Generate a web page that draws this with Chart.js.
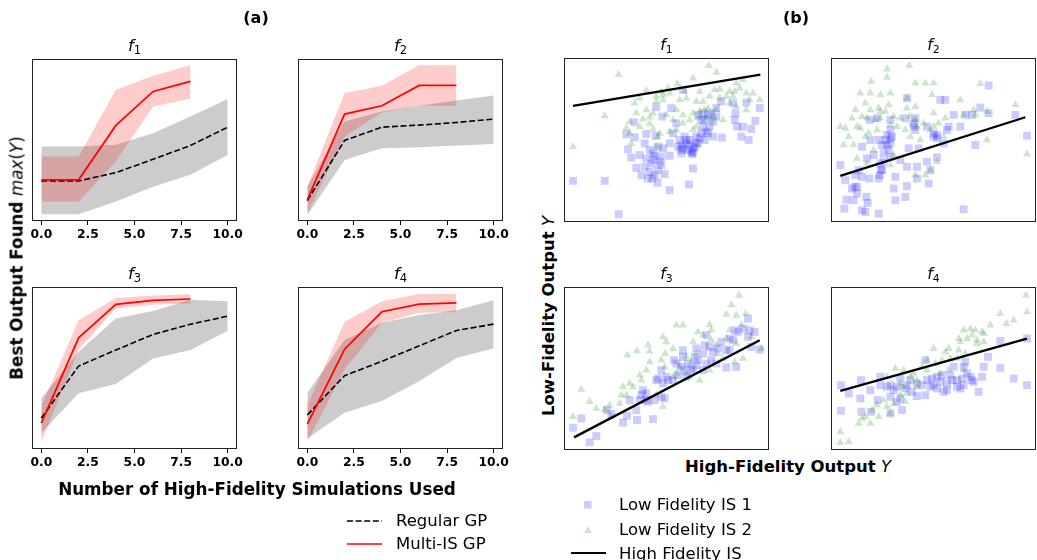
<!DOCTYPE html>
<html>
<head>
<meta charset="utf-8">
<script src="https://cdn.jsdelivr.net/npm/chart.js@4.4.0/dist/chart.umd.min.js"></script>
<style>
  html, body { margin: 0; padding: 0; }
  body { width: 1037px; height: 560px; background: #fff; position: relative; overflow: hidden;
         font-family: "DejaVu Sans", sans-serif; color: #000; }
  canvas { position: absolute; }
  .txt { position: absolute; white-space: nowrap; line-height: 1; transform: translate(-50%, -50%); }
  .rot { transform: translate(-50%, -50%) rotate(-90deg); }
  .left { transform: translate(0, -50%); }
  sub { font-size: 70%; vertical-align: -0.28em; font-style: normal; line-height: 0; }
  .b { font-weight: bold; }
  svg { position: absolute; overflow: visible; }
</style>
</head>
<body>
<script>
// ---- (a) best output found vs. number of high-fidelity simulations ----
const simCounts = [0, 2, 4, 6, 8, 10];
const xTickValues = [0, 2.5, 5, 7.5, 10];

const f1RegularMean = [24.7, 24.7, 29.9, 38.1, 46.6, 57.9];
const f1RegularLow  = [4.1, 4.1, 12.0, 21.2, 28.5, 40.8];
const f1RegularHigh = [46.0, 46.0, 47.0, 54.2, 64.5, 75.3];
const f1MultiMean   = [25.4, 25.4, 59.0, 80.0, 86.2];
const f1MultiLow    = [12.0, 12.0, 36.7, 70.7, 75.5];
const f1MultiHigh   = [39.8, 39.8, 81.0, 89.7, 96.1];

const f2RegularMean = [12.6, 49.7, 57.9, 59.2, 60.8, 62.9];
const f2RegularLow  = [3.7, 37.7, 44.9, 45.6, 46.6, 47.6];
const f2RegularHigh = [21.2, 61.4, 67.6, 71.1, 74.4, 77.5];
const f2MultiMean   = [13.0, 66.0, 71.1, 83.7, 83.7];
const f2MultiLow    = [4.7, 52.2, 67.0, 71.1, 71.1];
const f2MultiHigh   = [21.2, 79.0, 83.5, 96.1, 96.1];

const f3RegularMean = [19.1, 51.2, 61.1, 70.7, 77.0, 82.0];
const f3RegularLow  = [9.8, 34.4, 40.2, 55.9, 61.1, 73.0];
const f3RegularHigh = [31.4, 60.0, 80.5, 85.2, 92.2, 91.2];
const f3MultiMean   = [16.0, 68.6, 89.3, 91.8, 92.6];
const f3MultiLow    = [4.1, 61.1, 86.7, 89.1, 89.8];
const f3MultiHigh   = [26.2, 79.5, 93.2, 94.7, 95.5];

const f4RegularMean = [21.0, 45.3, 54.1, 63.7, 73.1, 77.1];
const f4RegularLow  = [6.5, 22.4, 29.6, 41.8, 56.1, 62.2];
const f4RegularHigh = [34.7, 67.3, 78.0, 82.7, 85.7, 91.8];
const f4MultiMean   = [15.3, 61.6, 84.7, 89.4, 90.2];
const f4MultiLow    = [4.5, 49.0, 78.0, 84.1, 84.5];
const f4MultiHigh   = [26.9, 78.6, 91.2, 95.7, 95.7];

// ---- (b) low-fidelity vs. high-fidelity outputs ----
const f1LowFid1 = [[5.4,24.6],[24.4,24.6],[32.8,4.6],[63.4,19],[75,22.4],[77.4,32],[56,23.4],[60.4,28.6],[51.4,30],[46.4,28],[43.4,32.4],[40.4,38.4],[38.4,43.4],[37.4,52.4],[42.4,50.6],[42,59.6],[49.4,52.6],[55,51.4],[48.4,47],[51.4,43],[54.4,39.6],[58.4,39],[63.4,39.6],[58.4,34],[59.4,44],[56.4,45],[53.8,37],[49.4,38],[70.4,46],[73.4,47],[70.4,41],[77.4,41.4],[77.8,44],[79.4,47],[81.4,50],[84.4,49],[86.4,53],[87.4,57],[89.4,51],[94.8,50.4],[83.4,57],[82.4,61],[80.4,64],[83.4,65],[88.4,65],[91.4,68],[94.4,72],[101.4,71],[102.8,65],[102.4,61],[109.4,71.4],[117.4,68],[114.8,60.4],[107.4,57],[112.4,55.6],[106.4,51],[110.8,49],[103.8,57],[55.4,68.6],[64.4,68],[59,63],[71.4,79],[67.4,59],[65.4,53],[63.4,47],[75.4,49],[72.4,51],[45.4,40],[48.4,33],[53,26],[76.8,40.6],[85.4,54],[91.4,63],[68.4,45],[71.4,44],[74.4,43],[76.4,42],[78.4,45],[80.4,47],[73.4,49],[75.4,46],[69.4,49],[70.4,43],[79.4,51],[82.4,53],[52.4,35],[56.4,31],[54.4,28],[50.4,26],[57.4,36],[53.4,41],[86.4,64],[89.4,60],[84.4,61.4]];
const f1LowFid2 = [[32.8,88],[5.4,45],[24.4,63.4],[86.8,93.4],[91.4,89.4],[77.4,86],[68,82.6],[72.4,78],[58.4,78],[62.4,80],[49.4,78.6],[55.4,75],[59.4,73],[45.4,74],[42.4,71],[49.4,67],[43.4,65],[37.4,56],[39.4,60],[47.4,61.4],[51.4,58.6],[53.4,55.4],[55.4,45],[40.4,47],[57.4,53],[63.4,54],[67.4,55],[71.4,59],[77.4,55],[75.4,61],[79.4,57],[80.4,62],[85.4,62],[89.4,63],[91.4,67],[95.4,61],[87.4,75],[90.4,79],[93.4,79.4],[97.4,75],[99.4,71],[101.4,75],[105.4,80],[109.4,77],[107.4,85],[113.4,77],[117.4,73],[109.4,67],[103.4,69],[73.4,74],[69.4,73],[79.4,72],[83.4,72],[67.4,67],[61.4,64],[71.4,64],[65.4,61],[81.4,78],[93.4,74],[86.4,68],[103.4,83],[56.4,51],[51.4,62.6],[99.4,78],[77.4,65],[81.4,66],[84.4,67],[88.4,61],[55.4,72],[59.4,76],[63.4,77],[39.4,53],[45.4,57],[53.4,65],[102.4,78],[111.4,73]];
const f1HighFid = [[5.4,69.4],[117.8,88]];

const f2LowFid1 = [[5.6,34],[8.6,25],[8,8],[9.2,13.4],[13.6,13],[14.2,21],[15.6,17],[18.6,7],[20.6,6],[21.2,15],[22,11.4],[28.6,5],[14.6,28],[16.6,31],[18.6,27],[23,26],[28.6,26],[30,31],[29.6,35],[31.6,41],[35.6,39],[36.6,51],[33.6,52],[35.6,55],[30.6,46],[25.6,40],[21.6,38],[18.6,45],[23.6,49],[28.6,49],[35.6,47],[38.6,13],[37.6,20],[44.6,15],[45.6,21.4],[38.6,27],[45.6,33],[51.6,33],[46.6,44],[52.6,44],[57.6,36],[59.6,31],[58.6,23],[51.6,26],[63.6,38.6],[49.6,57],[50.6,62],[45.6,74],[44.6,62],[57.6,57],[61.6,51],[63.6,52],[69.6,55],[70.6,57],[73.6,64],[77.6,57],[65.6,73],[68.6,73],[80.6,64],[84.6,64],[86.6,46],[89.6,68.4],[94.6,81.6],[94.6,65],[110.6,64],[117.6,51.6],[79.6,7.6],[27.6,62],[41.6,37],[67.6,47],[35.6,61],[23.2,61],[32.6,49],[34.6,43],[31.6,36],[30.6,31],[29.2,28],[33.6,46],[35.6,50],[61.6,53],[63.6,50],[49.6,59],[50.6,55],[15.6,21],[12.6,20]];
const f2LowFid2 = [[33.6,91.4],[47,93.6],[33.6,86.4],[24.2,84],[17.6,77],[23.6,77],[29.6,76],[35.6,77],[20.6,71],[14.6,67],[23.6,67],[28.6,68],[34.6,70],[45.6,74],[50.6,83],[56.6,83],[61.6,83],[60.6,76],[50.6,69],[45.6,68],[41.6,62],[37.6,63],[29.6,62],[21.6,62],[15.6,57],[5.6,57],[8.6,56],[10.6,51],[7.6,46],[13.6,46],[17.6,56],[20.6,51],[27.6,55],[35.6,58],[39.6,57],[47.6,51],[53.6,49],[59.6,55],[64.6,59],[68.6,62],[77.6,73],[79.6,64],[85.6,67],[89.6,82.6],[93.6,66],[93.6,49],[110.6,70],[117.6,40.6],[15.6,38],[21.6,35],[25.6,43],[37.6,40],[35.6,34],[50.6,28],[56.6,28],[59.6,31],[63.6,36],[67.6,51],[55.6,59],[61.6,65],[44.6,55],[51.6,57],[32.6,66],[18.6,63],[29.6,66],[26.6,61],[12.6,62],[22.6,53],[47.6,63],[50.6,61],[61.6,57],[86.6,64]];
const f2HighFid = [[5.6,27.6],[116.6,62.6]];

const f3LowFid1 = [[5.4,13.4],[10.4,19],[15.4,4.6],[19.4,8.4],[25.8,24],[28.4,21.6],[35.4,16.4],[37.8,20.6],[43.8,18],[43.4,24],[53.4,18.6],[45.4,30],[47.4,36],[50.4,29],[49.4,34],[55.4,42],[59.4,40],[60.4,31],[58.4,48],[61.4,44],[65.4,42],[66,54],[71.4,60],[72.4,48],[73.4,44],[77.4,48],[74.4,52],[78.4,56],[79.4,51],[83.4,48],[85.4,52],[83.4,58],[84.4,63],[85.4,69],[89.4,59],[88.4,54],[91.4,52],[94.4,65],[97.4,49.6],[103.4,50],[97.4,60],[101.4,66],[102.4,72],[107.4,73],[110.4,79],[110.4,68],[112.4,62],[114.4,71],[117.4,60.4],[99.4,60],[79.4,61],[67.4,52],[71.4,56],[54.4,30],[39.4,30],[56.4,43],[62.4,42],[68.4,45],[70.4,50],[76.4,49],[80.4,54],[87.4,62],[92.4,61],[99.4,67],[104.4,71],[111.4,72],[46.4,33],[49.4,30],[58.4,32]];
const f3LowFid2 = [[105,93],[100.4,87.4],[97.4,81.6],[103.4,81],[109,82],[87.4,75.4],[88.4,72],[71.4,75],[67.4,75],[59.4,68],[61.4,65],[50.4,63],[51.4,59.4],[43.8,59.6],[38,57],[60.8,58],[65.4,61],[77.4,65],[83.4,69],[91.4,63],[95.4,55],[102.4,53],[107.4,55],[112.4,68],[106.4,75],[97.4,67],[118.4,61],[69.4,50],[73.4,46],[81.4,42],[76.4,53],[58.4,54],[45.4,45],[46.4,42],[39.4,40],[35.4,38],[37.4,33],[34.4,33],[27.4,27],[24.4,24.4],[19.4,25],[15.4,29],[10.4,36.4],[5.4,20],[28.4,20],[59.4,26],[55.4,33],[49.4,48],[67.4,46],[87.4,48],[92.4,58],[80.4,71],[60.4,50],[51.4,53],[65.4,44],[73.4,56],[79.4,58],[88.4,66],[99.4,72],[103.4,64],[41.4,38],[33.4,28],[75.4,44]];
const f3HighFid = [[6,7.6],[117.4,66]];

const f4LowFid1 = [[6,39],[10.6,34],[6,23.6],[18,42],[17.6,31],[18.2,23],[23.6,36],[24,23],[28,30],[29.6,39],[33.6,38],[35.6,32],[35.6,22],[39.6,38],[41.6,43],[41.6,31],[42.6,24],[47.6,42],[48.6,35],[51.6,32.4],[56.6,54],[56.6,33],[60.6,43],[63.6,44],[63.6,37],[66.6,45],[67.6,35],[69.6,40],[71.6,45],[73.6,50],[75.6,42],[75.6,38],[77.6,37],[79.6,50],[80.6,53],[81.6,46],[83.6,44],[84.6,42],[88.6,35],[90.6,44],[91.6,50],[94.2,56],[101.6,65.6],[101.6,49.4],[109.6,43],[117.6,39],[117.6,67],[44.6,37],[54.6,39],[59.6,38],[29.6,44],[37.6,36],[45.6,39],[51.6,40],[57.6,42],[61.6,39],[65.6,41],[72.6,42],[78.6,43],[85.6,41],[79.6,39],[35.6,39],[39.6,29],[69.6,36]];
const f4LowFid2 = [[117,93],[117.6,83],[101.6,82],[105.2,76],[109.6,78],[95.6,75],[90.6,71],[86.6,72],[83.6,73],[79.6,72],[76.6,67],[81.6,67],[87.6,66],[91.6,65],[80.6,58],[76.6,60],[70.6,61],[68.6,59],[61.6,61],[57.6,54],[62.6,52],[54.6,50],[43.6,48],[38.6,49],[33.6,44],[47.6,44],[51.6,42],[65.6,46],[75.6,55],[42.6,38],[41.6,33],[44.6,29],[37.6,28],[33.6,26],[27.6,27],[24.6,24],[18.6,19],[16.6,16],[23.6,16],[5.6,11],[5.6,4.4],[10.6,5],[28.6,20],[35.6,22],[45.6,34],[57.6,48],[70.6,48],[79.6,48],[87.6,64],[71.6,55],[51.6,38],[77.6,65],[84.6,69],[66.6,54],[49.6,46],[41.6,40],[31.6,30],[20.6,20],[91.6,70]];
const f4HighFid = [[5.6,35.6],[117.6,67]];

// ---- shared drawing helpers ----
const FONT = '"DejaVu Sans", sans-serif';

const framePlugin = {
  id: 'axesFrame',
  afterDatasetsDraw(chart) {
    const a = chart.chartArea, ctx = chart.ctx;
    ctx.save();
    ctx.strokeStyle = '#222';
    ctx.lineWidth = 1;
    ctx.strokeRect(Math.round(a.left) + 0.5, Math.round(a.top) + 0.5,
                   Math.round(a.right - a.left) - 1, Math.round(a.bottom - a.top) - 1);
    ctx.restore();
  }
};

function makeCanvas(left, top, w, h) {
  const cv = document.createElement('canvas');
  cv.width = w; cv.height = h;
  cv.style.left = left + 'px'; cv.style.top = top + 'px';
  cv.style.width = w + 'px'; cv.style.height = h + 'px';
  document.body.appendChild(cv);
  return cv;
}

function addText(html, x, y, size, cls) {
  const d = document.createElement('div');
  d.className = 'txt' + (cls ? ' ' + cls : '');
  d.style.left = x + 'px'; d.style.top = y + 'px';
  d.style.fontSize = size + 'px';
  d.innerHTML = html;
  document.body.appendChild(d);
  return d;
}

const asPoints = ys => ys.map((y, i) => ({ x: simCounts[i], y }));
const pairPoints = arr => arr.map(p => ({ x: p[0], y: p[1] }));

function drawCurvePanel(p) {
  const padX = 18, padTop = 4, axisH = 30;
  const [L, T, W, H] = p.box;
  const cv = makeCanvas(L - padX, T - padTop, W + 2 * padX, H + padTop + axisH);
  const band = { borderColor: 'transparent', borderWidth: 0, pointRadius: 0 };
  new Chart(cv, {
    type: 'line',
    data: {
      datasets: [
        { label: 'Multi-IS GP', data: asPoints(p.multiMean), borderColor: '#ff0000', borderWidth: 1.7, pointRadius: 0, fill: false },
        { label: 'Regular GP', data: asPoints(p.regMean), borderColor: '#000', borderWidth: 1.6, borderDash: [6, 2.6], pointRadius: 0, fill: false },
        { ...band, data: asPoints(p.multiHigh), fill: '+1', backgroundColor: 'rgba(255,0,0,0.2)' },
        { ...band, data: asPoints(p.multiLow), fill: false },
        { ...band, data: asPoints(p.regHigh), fill: '+1', backgroundColor: 'rgba(128,128,128,0.4)' },
        { ...band, data: asPoints(p.regLow), fill: false }
      ]
    },
    options: {
      responsive: false, animation: false, events: [],
      layout: { padding: { left: padX, right: padX, top: padTop, bottom: 0 } },
      plugins: { legend: { display: false }, tooltip: { enabled: false } },
      scales: {
        x: {
          type: 'linear', min: -0.5, max: 10.5,
          afterBuildTicks: s => { s.ticks = xTickValues.map(v => ({ value: v })); },
          afterFit: s => { s.height = axisH; },
          grid: { display: true, drawOnChartArea: false, drawTicks: true, tickLength: 4, color: '#000', lineWidth: 1 },
          border: { display: false },
          ticks: { font: { family: FONT, size: 12.3, weight: 'bold' }, color: '#000', padding: 2.5,
                   maxRotation: 0, autoSkip: false, callback: v => Number(v).toFixed(1) }
        },
        y: { display: false, min: 0, max: 100 }
      }
    },
    plugins: [framePlugin]
  });
  addText('<i>f</i><sub>' + p.idx + '</sub>', L + W / 2, T - 13, 16.5);
}

function drawScatterPanel(p) {
  const pad = 6;
  const [L, T, W, H] = p.box;
  const cv = makeCanvas(L - pad, T - pad, W + 2 * pad, H + 2 * pad);
  new Chart(cv, {
    type: 'scatter',
    data: {
      datasets: [
        { type: 'line', label: 'High Fidelity IS', data: pairPoints(p.hf), showLine: true, borderColor: '#000', borderWidth: 2.3, pointRadius: 0, fill: false },
        { label: 'Low Fidelity IS 2', data: pairPoints(p.lf2), pointStyle: 'triangle', pointRadius: 4.7, backgroundColor: 'rgba(0,128,0,0.2)', borderWidth: 0 },
        { label: 'Low Fidelity IS 1', data: pairPoints(p.lf1), pointStyle: 'rect', pointRadius: 5.6, backgroundColor: 'rgba(0,0,255,0.2)', borderWidth: 0 }
      ]
    },
    options: {
      responsive: false, animation: false, events: [],
      layout: { padding: pad },
      plugins: { legend: { display: false }, tooltip: { enabled: false } },
      scales: {
        x: { type: 'linear', display: false, min: 0, max: 123 },
        y: { type: 'linear', display: false, min: 0, max: 98 }
      }
    },
    plugins: [framePlugin]
  });
  addText('<i>f</i><sub>' + p.idx + '</sub>', L + W / 2, T - 12, 15.5);
}

// ---- panels ----
const curvePanels = [
  { idx: 1, box: [32, 59, 205, 162], regMean: f1RegularMean, regLow: f1RegularLow, regHigh: f1RegularHigh, multiMean: f1MultiMean, multiLow: f1MultiLow, multiHigh: f1MultiHigh },
  { idx: 2, box: [298, 59, 205, 162], regMean: f2RegularMean, regLow: f2RegularLow, regHigh: f2RegularHigh, multiMean: f2MultiMean, multiLow: f2MultiLow, multiHigh: f2MultiHigh },
  { idx: 3, box: [32, 287, 205, 162], regMean: f3RegularMean, regLow: f3RegularLow, regHigh: f3RegularHigh, multiMean: f3MultiMean, multiLow: f3MultiLow, multiHigh: f3MultiHigh },
  { idx: 4, box: [298, 287, 205, 162], regMean: f4RegularMean, regLow: f4RegularLow, regHigh: f4RegularHigh, multiMean: f4MultiMean, multiLow: f4MultiLow, multiHigh: f4MultiHigh }
];
const scatterPanels = [
  { idx: 1, box: [564, 58, 205, 164], lf1: f1LowFid1, lf2: f1LowFid2, hf: f1HighFid },
  { idx: 2, box: [831, 58, 205, 164], lf1: f2LowFid1, lf2: f2LowFid2, hf: f2HighFid },
  { idx: 3, box: [564, 287, 205, 163], lf1: f3LowFid1, lf2: f3LowFid2, hf: f3HighFid },
  { idx: 4, box: [831, 287, 205, 163], lf1: f4LowFid1, lf2: f4LowFid2, hf: f4HighFid }
];
curvePanels.forEach(drawCurvePanel);
scatterPanels.forEach(drawScatterPanel);

// ---- panel headings and axis labels ----
addText('(a)', 256, 18, 16, 'b');
addText('(b)', 796, 18, 16, 'b');
addText('Number of High-Fidelity Simulations Used', 257, 489, 16.8, 'b');
addText('<b>Best Output Found</b> <i>max</i>(<i>Y</i>)', 17, 258, 16.8, 'rot');
addText('<b>High-Fidelity Output</b> <i>Y</i>', 788, 467, 16.5);
addText('<b>Low-Fidelity Output</b> <i>Y</i>', 549, 316, 16.5, 'rot');

// ---- legends ----
function addSvg(x, y, w, h, inner) {
  const ns = 'http://www.w3.org/2000/svg';
  const s = document.createElementNS(ns, 'svg');
  s.setAttribute('width', w); s.setAttribute('height', h);
  s.style.left = x + 'px'; s.style.top = y + 'px';
  s.innerHTML = inner;
  document.body.appendChild(s);
}
// (a)
addSvg(347, 518, 36, 6, '<line x1="0" y1="3" x2="35" y2="3" stroke="#000" stroke-width="1.6" stroke-dasharray="6,2.6"/>');
addText('Regular GP', 396, 521, 16.5, 'left');
addSvg(347, 541, 36, 6, '<line x1="0" y1="3" x2="35" y2="3" stroke="#ff0000" stroke-width="1.7"/>');
addText('Multi-IS GP', 396, 544, 16.5, 'left');
// (b)
addSvg(584, 501, 8, 8, '<rect x="0" y="0" width="7.5" height="7.5" fill="rgba(0,0,255,0.2)"/>');
addText('Low Fidelity IS 1', 619, 505, 16.5, 'left');
addSvg(584, 526, 9, 8, '<polygon points="4,0 8,7 0,7" fill="rgba(0,128,0,0.2)"/>');
addText('Low Fidelity IS 2', 619, 530, 16.5, 'left');
addSvg(571, 550, 36, 6, '<line x1="0" y1="3" x2="35" y2="3" stroke="#000" stroke-width="2.2"/>');
addText('High Fidelity IS', 619, 554, 16.5, 'left');
</script>
</body>
</html>
